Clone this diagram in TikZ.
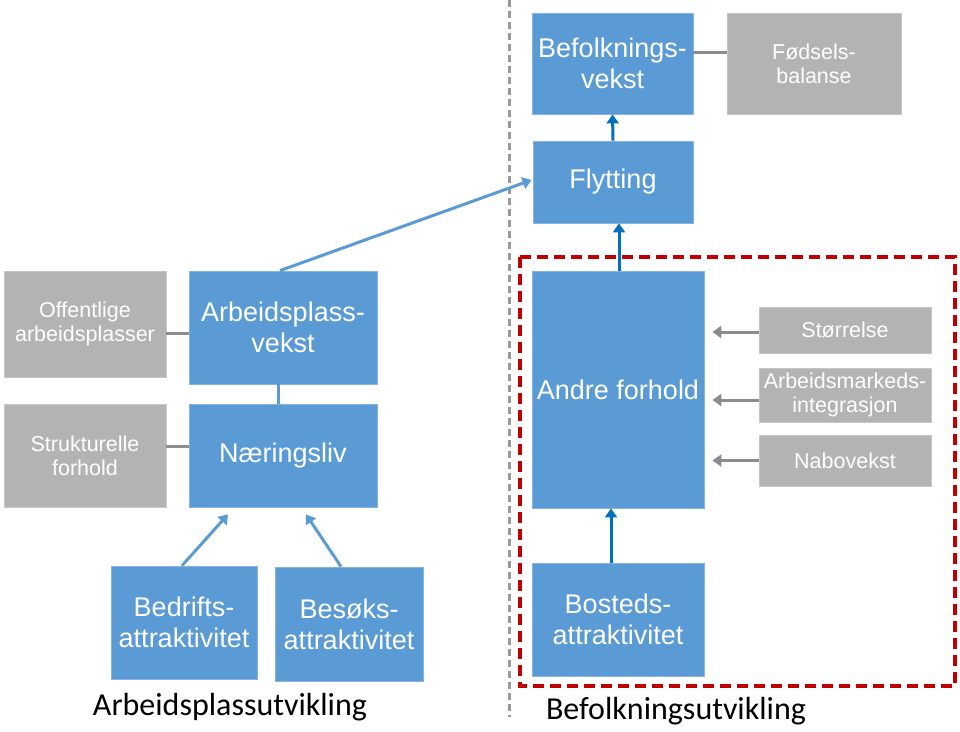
\documentclass[tikz,border=0pt]{standalone}
\usepackage{fontspec}
\setmainfont{Liberation Sans}
\newfontfamily\capfont{Carlito}
\usetikzlibrary{arrows.meta}
\definecolor{boxblue}{HTML}{5B9BD5}
\definecolor{boxgray}{HTML}{B3B3B3}
\definecolor{darkarrow}{HTML}{0070C0}
\definecolor{linegray}{HTML}{8C8C8C}
\definecolor{framered}{HTML}{C00000}
\begin{document}
\begin{tikzpicture}[x=1pt, y=-1pt,
		bluebox/.style={fill=boxblue, draw=boxblue!75!white, line width=0.8pt, text=white, align=center, inner sep=0pt, font=\fontsize{27}{31}\selectfont},
		graybox/.style={fill=boxgray, draw=boxgray!75!white, line width=0.8pt, text=white, align=center, inner sep=0pt, font=\fontsize{21.5}{24}\selectfont},
		darkarr/.style={draw=darkarrow, line width=3pt, -{Triangle[length=9pt, width=12pt]}},
		bluearr/.style={draw=boxblue, line width=3pt, -{Triangle[length=9pt, width=12pt]}},
		grayarr/.style={draw=linegray, line width=3pt, -{Triangle[length=9pt, width=12pt]}},
		grayline/.style={draw=linegray, line width=3pt},
		blueline/.style={draw=boxblue, line width=3pt}]
	\useasboundingbox (0,0) rectangle (960,731);

	% dividers
	\draw [draw=black!40, line width=3pt, dash pattern=on 7pt off 4pt] (509,0) -- (509,717);
	\draw [draw=framered, line width=4.5pt, dash pattern=on 11pt off 6pt] (520,257) rectangle (955,686);

	% right side
	\node (befv) [bluebox, minimum width=161pt, minimum height=101pt] at (612.5,63.5) {Befolknings-\\vekst};
	\node (fods) [graybox, minimum width=174pt, minimum height=101pt] at (814,63.5) {Fødsels-\\balanse};
	\node (flyt) [bluebox, minimum width=160pt, minimum height=82pt] at (613,182) {Flytting};
	\node (andre) [bluebox, minimum width=172pt, minimum height=237pt] at (618,389.5) {Andre forhold};
	\node (storr) [graybox, minimum width=172pt, minimum height=46pt] at (845,330) {Størrelse};
	\node (arbm) [graybox, minimum width=172pt, minimum height=54pt] at (845,395) {Arbeidsmarkeds-\\integrasjon};
	\node (nabo) [graybox, minimum width=172pt, minimum height=51pt] at (845,460.5) {Nabovekst};
	\node (bost) [bluebox, minimum width=172pt, minimum height=113pt] at (618,619.5) {Bosteds-\\attraktivitet};

	% left side
	\node (off) [graybox, minimum width=162pt, minimum height=106pt] at (85,324) {Offentlige\\arbeidsplasser};
	\node (strukt) [graybox, minimum width=162pt, minimum height=103pt] at (85,455.5) {Strukturelle\\forhold};
	\node (apv) [bluebox, minimum width=188pt, minimum height=113pt] at (283,327.5) {Arbeidsplass-\\vekst};
	\node (naer) [bluebox, minimum width=188pt, minimum height=103pt] at (283,455.5) {Næringsliv};
	\node (bedr) [bluebox, minimum width=146pt, minimum height=113pt] at (184,622.5) {Bedrifts-\\attraktivitet};
	\node (besok) [bluebox, minimum width=148pt, minimum height=114pt] at (349,624) {Besøks-\\attraktivitet};

	% captions
	\node (arbutv) [font=\capfont\fontsize{32}{36}\selectfont, inner sep=0pt] at (230,707) {Arbeidsplassutvikling};
	\node (befutv) [font=\capfont\fontsize{32}{36}\selectfont, inner sep=0pt] at (676,711) {Befolkningsutvikling};

	% connectors
	\draw [grayline] ([yshift=11pt]befv.east) -- ([yshift=11pt]fods.west);
	\draw [darkarr] (flyt.north) -- (befv.south);
	\draw [darkarr] ([xshift=1pt]andre.north) -- ([xshift=1pt]andre.north |- flyt.south);
	\draw [darkarr] ([xshift=-7pt]bost.north) -- ([xshift=-7pt]andre.south);
	\draw [grayarr, shorten >=8pt] ([yshift=-2pt]storr.west) -- ([yshift=-2pt]storr.west -| andre.east);
	\draw [grayarr, shorten >=8pt] ([yshift=-5pt]arbm.west) -- ([yshift=-5pt]arbm.west -| andre.east);
	\draw [grayarr, shorten >=8pt] (nabo.west) -- (nabo.west -| andre.east);
	\draw [grayline] ([yshift=-9pt]off.east) -- ([yshift=-9pt]off.east -| apv.west);
	\draw [grayline] ([yshift=9.5pt]strukt.east) -- ([yshift=9.5pt]strukt.east -| naer.west);
	\draw [blueline] ([xshift=-5pt]apv.south) -- ([xshift=-5pt]naer.north);
	\draw [bluearr] ([xshift=-3pt]apv.north) -- ([yshift=2pt, xshift=-1pt]flyt.west);
	\draw [bluearr] ([xshift=-2pt]bedr.north) -- ([xshift=-55pt, yshift=-7pt]naer.south);
	\draw [bluearr] ([xshift=-8pt]besok.north) -- ([xshift=23pt, yshift=-7pt]naer.south);
\end{tikzpicture}
\end{document}
